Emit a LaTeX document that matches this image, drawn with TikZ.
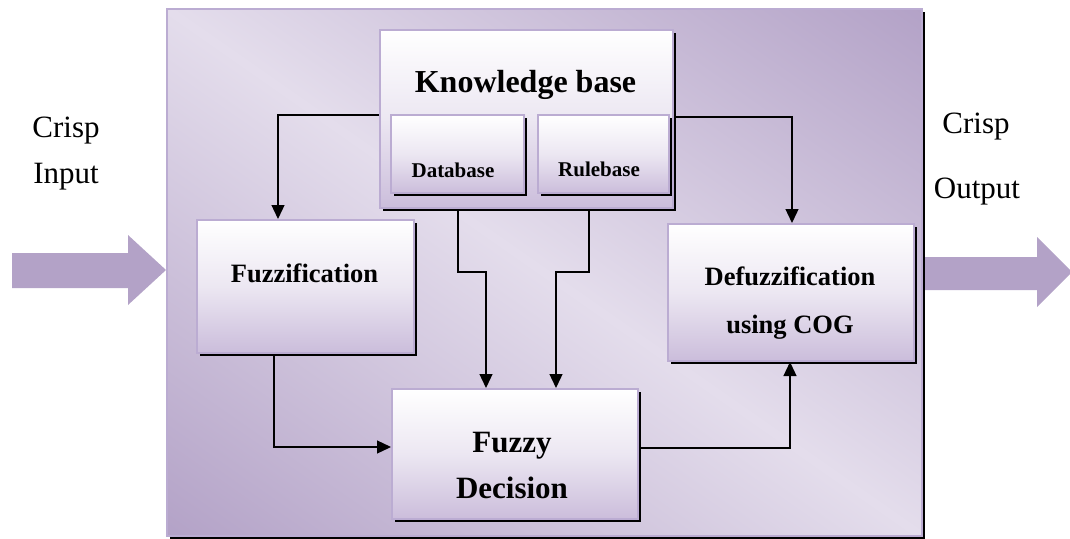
\documentclass[tikz,border=0pt]{standalone}
\usepackage{fontspec}
\setmainfont{Liberation Serif}
\usetikzlibrary{shadows,arrows.meta}
\definecolor{arrowpurple}{HTML}{B3A2C7}
\definecolor{boxedge}{HTML}{BBACD2}
\definecolor{boxbottom}{HTML}{CBBDDB}
\definecolor{boxmid}{HTML}{ECE7F2}
% diagonal gradient: light along the TL-BR diagonal, dark at TR and BL corners
\pgfdeclarefunctionalshading{outershade}{\pgfpoint{-50bp}{-50bp}}{\pgfpoint{50bp}{50bp}}{}{
  add abs 50 div dup 1 gt {pop 1} if
  dup -0.192 mul 0.894 add exch
  dup -0.232 mul 0.867 add exch
  -0.145 mul 0.925 add
}
\tikzset{
  box/.style={draw=boxedge, line width=2pt, top color=white, bottom color=boxbottom, middle color=boxmid,
    general shadow={shadow xshift=3pt, shadow yshift=-3pt, fill=black}, inner sep=0pt, anchor=north west},
  outerbox/.style={draw=boxedge, line width=2pt, shading=outershade,
    general shadow={shadow xshift=2.5pt, shadow yshift=-2.5pt, fill=black}, inner sep=0pt, anchor=north west},
  bigarrow/.style={fill=arrowpurple, draw=none},
  conn/.style={line width=1.3pt, -{Triangle[length=14pt,width=13pt]}},
  plain/.style={font=\fontsize{31}{37}\selectfont, anchor=base, inner sep=0pt},
  bigbold/.style={font=\bfseries\fontsize{31}{37}\selectfont, anchor=base, inner sep=0pt},
  midbold/.style={font=\bfseries\fontsize{26.5}{32}\selectfont, anchor=base, inner sep=0pt},
  smallbold/.style={font=\bfseries\fontsize{21}{25}\selectfont, anchor=base, inner sep=0pt},
}
\begin{document}
\begin{tikzpicture}[x=1pt,y=-1pt]
\useasboundingbox (0,0) rectangle (1070,538);
% big input/output arrows
\fill[bigarrow] (12,253) -- (128,253) -- (128,235) -- (166,270) -- (128,305) -- (128,288) -- (12,288) -- cycle;
\fill[bigarrow] (915,257) -- (1037,257) -- (1037,237) -- (1072,272) -- (1037,307) -- (1037,290) -- (915,290) -- cycle;
% outer box
\node[outerbox, minimum width=755pt, minimum height=527pt] (outer) at (166,8) {};
% boxes
\node[box, minimum width=293pt, minimum height=178pt] (kb) at (379,29) {};
\node[box, minimum width=133pt, minimum height=78pt] (db) at (390,114) {};
\node[box, minimum width=131pt, minimum height=78pt] (rb) at (537,114) {};
\node[box, minimum width=217pt, minimum height=133pt] (fuzz) at (196,219) {};
\node[box, minimum width=246pt, minimum height=137pt] (defuzz) at (667,223) {};
\node[box, minimum width=246pt, minimum height=130pt] (fd) at (391,388) {};
% texts
\node[bigbold, font=\bfseries\fontsize{32}{38}\selectfont] (kbT) at (525.5,92) {Knowledge base};
\node[smallbold] (dbT) at (453,177) {Database};
\node[smallbold] (rbT) at (599,176) {Rulebase};
\node[midbold] (fuzzT) at (304.5,282) {Fuzzification};
\node[midbold] (defuzzT1) at (790,285) {Defuzzification};
\node[midbold] (defuzzT2) at (790,333) {using COG};
\node[bigbold] (fdT1) at (512,452) {Fuzzy};
\node[bigbold] (fdT2) at (512,498) {Decision};
\node[plain] (inT1) at (66,137) {Crisp};
\node[plain] (inT2) at (66,183) {Input};
\node[plain] (outT1) at (976,133) {Crisp};
\node[plain] (outT2) at (977,198) {Output};
% connectors
\draw[conn] ([yshift=4pt]kb.west) -| ([xshift=-27.5pt]fuzz.north);
\draw[conn] ([yshift=2pt]kb.east) -| ([xshift=1pt]defuzz.north);
\draw[conn] ([xshift=-68.5pt]kb.south) -- ++(0,63) -| ([xshift=-29pt]fd.north);
\draw[conn] ([xshift=62.5pt]kb.south) -- ++(0,63) -| ([xshift=41pt]fd.north);
\draw[conn] ([xshift=-31.5pt]fuzz.south) |- ([yshift=7pt]fd.west);
\draw[conn] ([yshift=6pt]fd.east) -| ([xshift=-1pt]defuzz.south);
\end{tikzpicture}
\end{document}
